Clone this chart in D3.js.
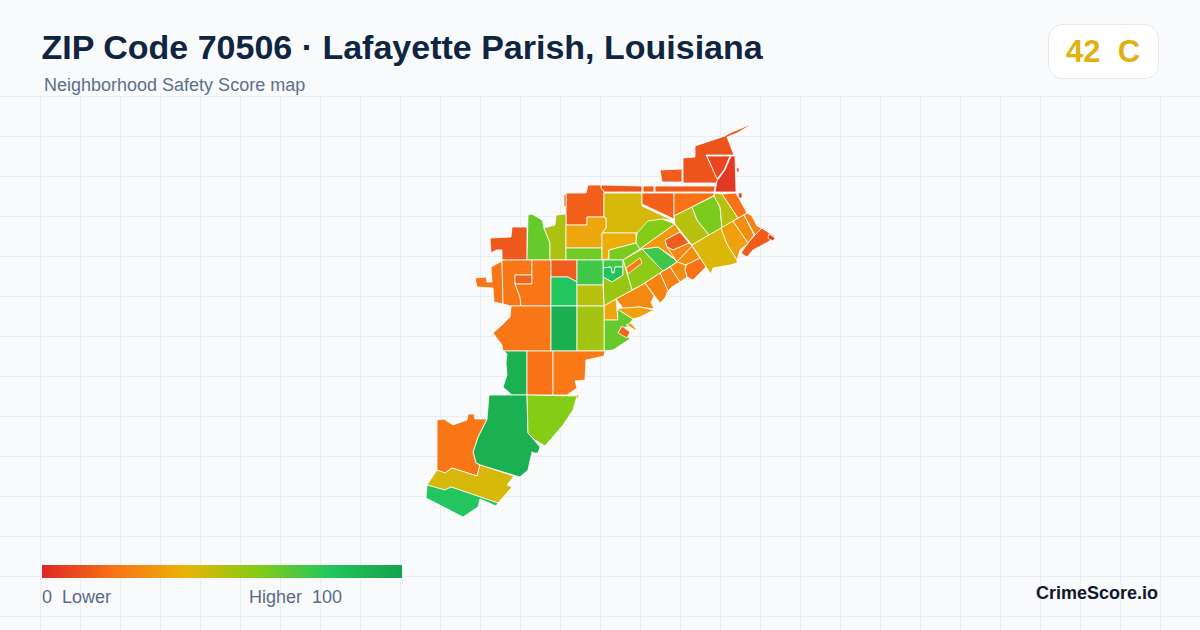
<!DOCTYPE html>
<html>
<head>
<meta charset="utf-8">
<script src="https://d3js.org/d3.v7.min.js"></script>
<style>
  html, body { margin: 0; padding: 0; background: #f8fafc; }
  svg { display: block; }
  text { font-family: "Liberation Sans", Arial, sans-serif; }
</style>
</head>
<body>
<svg id="chart" width="1200" height="630"></svg>
<script>
const titleText = "ZIP Code 70506 \u00b7 Lafayette Parish, Louisiana";
const subtitleText = "Neighborhood Safety Score map";
const overallScore = 42;
const overallGrade = "C";

const legendStops = [0, 20, 40, 60, 80, 100];
const legendColors = ["#dc2626", "#f97316", "#eab308", "#84cc16", "#22c55e", "#16a34a"];

// one score per block group
const tractScores = [
  12, 8, 5, 5, 5, 14, 13, 14, 14, 15, 15, 44, 15, 20, 50, 62, 50, 20,
  43, 34, 28, 25, 14, 5, 13, 66, 52, 36, 64, 38, 62, 60, 58, 22, 74, 74, 82, 56,
  32, 14, 26, 28, 20, 28, 25, 25, 27, 34, 36, 66, 16, 35,
  21, 21, 16, 21, 14, 80, 74, 50, 21, 93, 54,
  92, 20, 22, 34, 92, 60, 21, 44, 80
];

// outlines in map units, same order as tractScores
const tractOutlines = [
  [[749,125],[742,128],[737,130],[728,134],[725,136],[695,146],[695,157],[683,158],[683,183],[716,183],[718,180],[706,155],[734,155],[727,137],[737,133],[749,126]],
  [[707,156],[730,156],[724,170],[717,179]],
  [[731,156],[735,156],[736,192],[715,192],[717,181],[725,170]],
  [[736,168],[739,168],[739,172],[737,172]],
  [[738,193],[742,193],[742,198],[739,198]],
  [[660,170],[682,169],[682,182],[662,182]],
  [[601,185],[642,186],[642,192],[604,192],[601,188]],
  [[643,186],[654,186],[654,192],[643,192]],
  [[655,186],[715,186],[714,192],[655,192]],
  [[566,193],[586,193],[588,185],[601,185],[601,188],[604,192],[604,217],[587,217],[587,225],[566,225]],
  [[564,194],[566,194],[566,207],[564,207]],
  [[604,193],[642,193],[642,206],[674,221],[663,219],[650,222],[637,233],[602,233],[606,228],[606,218],[604,217]],
  [[642,193],[674,193],[674,219],[642,204]],
  [[674,193],[715,193],[713,196],[692,207],[674,216]],
  [[674,216],[692,207],[697,220],[709,235],[692,245],[675,224]],
  [[692,207],[714,196],[720,207],[722,228],[709,235],[697,220]],
  [[714,196],[715,193],[722,194],[738,218],[722,228],[720,207]],
  [[722,194],[736,193],[747,213],[738,218]],
  [[692,245],[709,235],[721,228],[727,244],[737,260],[737,263],[730,265],[713,268],[711,274],[706,267]],
  [[721,228],[733,221],[748,243],[740,250],[737,260],[727,244]],
  [[733,221],[744,215],[754,235],[748,243]],
  [[744,215],[747,213],[752,216],[757,226],[762,228],[755,235]],
  [[755,235],[762,228],[775,237],[768,242],[753,250],[747,257],[741,253],[748,243]],
  [[769,234],[775,238],[773,241],[768,238]],
  [[490,238],[511,237],[512,227],[527,227],[527,260],[502,260],[502,250],[496,250],[491,253]],
  [[528,215],[532,214],[542,220],[544,228],[550,243],[550,260],[527,260]],
  [[544,228],[555,225],[556,215],[566,214],[566,260],[550,260],[550,243]],
  [[566,225],[587,225],[587,217],[604,217],[606,218],[606,228],[602,233],[602,248],[566,248]],
  [[566,248],[602,248],[602,260],[566,260]],
  [[602,233],[636,233],[636,243],[609,250],[609,259],[602,260]],
  [[609,250],[636,243],[640,249],[623,260],[602,260],[609,259]],
  [[637,233],[648,221],[662,219],[675,224],[640,249],[636,243]],
  [[623,260],[642,249],[663,271],[640,286],[632,290]],
  [[626,268],[640,258],[642,263],[628,274]],
  [[642,249],[658,247],[674,259],[677,262],[663,271]],
  [[603,260],[623,260],[623,267],[615,267],[614,273],[612,273],[611,267],[603,268]],
  [[603,268],[611,267],[612,273],[614,273],[615,267],[623,267],[623,275],[612,282],[603,277]],
  [[603,277],[612,282],[623,275],[623,260],[632,290],[604,306]],
  [[640,249],[675,224],[680,232],[665,240],[667,247],[677,260],[658,247],[642,249]],
  [[665,240],[680,232],[689,243],[673,250],[667,247]],
  [[667,247],[673,250],[689,243],[692,246],[688,250],[677,262]],
  [[677,262],[692,246],[700,258],[686,265]],
  [[686,265],[700,258],[706,267],[693,280],[687,277],[685,270]],
  [[677,262],[686,265],[685,270],[687,277],[680,282],[670,267]],
  [[660,273],[670,267],[680,282],[672,287],[668,291]],
  [[660,273],[668,291],[665,298],[660,303],[645,283]],
  [[616,299],[640,286],[645,283],[654,296],[651,302],[654,309],[640,307],[623,308]],
  [[617,309],[623,308],[640,307],[654,310],[640,317],[633,319]],
  [[604,306],[616,299],[617,309],[618,320],[604,320]],
  [[604,320],[618,320],[617,309],[633,319],[627,327],[620,328],[630,339],[613,350],[604,351]],
  [[622,326],[630,332],[627,338],[618,333]],
  [[626,325],[631,323],[637,330],[635,330],[630,327]],
  [[491,267],[502,261],[503,304],[494,302],[493,288],[477,287],[475,278],[486,277],[487,282],[492,282]],
  [[502,260],[532,260],[532,275],[515,275],[515,284],[520,297],[521,306],[511,306],[503,304]],
  [[515,275],[532,275],[532,284],[515,284]],
  [[532,260],[551,260],[551,306],[521,306],[520,297],[515,284],[532,284]],
  [[551,260],[577,260],[577,282],[568,277],[551,277]],
  [[551,277],[568,277],[577,282],[577,306],[551,306]],
  [[577,260],[603,260],[603,285],[577,285]],
  [[577,285],[603,285],[604,306],[577,306]],
  [[511,306],[551,306],[551,351],[503,351],[502,345],[493,333],[502,325],[510,317]],
  [[551,306],[577,306],[577,351],[551,351]],
  [[577,306],[604,306],[604,351],[577,351]],
  [[504,351],[527,351],[527,395],[512,395],[503,387],[507,375],[506,363],[507,354]],
  [[527,351],[553,351],[553,395],[527,395]],
  [[553,351],[605,351],[604,356],[586,360],[585,380],[575,381],[577,388],[567,395],[553,395]],
  [[573,395],[579,395],[578,399]],
  [[489,395],[527,395],[528,433],[540,447],[538,453],[534,453],[532,452],[528,470],[520,477],[480,465],[476,463],[473,452],[478,437],[487,419]],
  [[527,395],[577,396],[573,410],[563,425],[545,446],[535,440],[528,433]],
  [[437,420],[444,419],[453,425],[467,420],[468,414],[474,414],[475,419],[487,419],[478,437],[473,452],[476,463],[480,465],[477,476],[452,468],[445,473],[437,470]],
  [[437,470],[445,473],[452,468],[477,476],[480,465],[514,476],[507,485],[512,487],[498,503],[451,487],[445,490],[427,485]],
  [[427,485],[445,490],[451,487],[498,503],[496,506],[480,499],[478,507],[463,517],[426,498]]
];

const width = 1200;
const height = 630;
const svg = d3.select("#chart");

const color = d3.scaleLinear().domain(legendStops).range(legendColors);

// background grid
const grid = svg.append("g").attr("stroke", "#e8eff4").attr("stroke-width", 1);
grid.selectAll("line.v").data(d3.range(40, width, 40)).join("line")
  .attr("class", "v")
  .attr("x1", d => d + 0.5).attr("x2", d => d + 0.5)
  .attr("y1", 97).attr("y2", height);
grid.selectAll("line.h").data(d3.range(97, height, 40)).join("line")
  .attr("class", "h")
  .attr("x1", 0).attr("x2", width)
  .attr("y1", d => d - 0.5).attr("y2", d => d - 0.5);

// map
const path = d3.geoPath(d3.geoIdentity());
const features = tractOutlines.map((ring, i) => ({
  type: "Feature",
  properties: { score: tractScores[i] },
  geometry: { type: "Polygon", coordinates: [ring.concat([ring[0]])] }
}));
svg.append("g").selectAll("path").data(features).join("path")
  .attr("d", path)
  .attr("fill", d => color(d.properties.score))
  .attr("stroke", "#ffffff")
  .attr("stroke-width", 0.8)
  .attr("stroke-linejoin", "round");

// header
svg.append("text").attr("x", 41.5).attr("y", 59)
  .attr("font-size", 34).attr("font-weight", 700).attr("fill", "#0f2540")
  .text(titleText);
svg.append("text").attr("x", 44).attr("y", 91)
  .attr("font-size", 18).attr("fill", "#5b7089")
  .text(subtitleText);

// score badge
svg.append("rect").attr("x", 1048.5).attr("y", 24.5).attr("width", 110).attr("height", 54).attr("rx", 14)
  .attr("fill", "#ffffff").attr("stroke", "#e2e8f0");
svg.append("text").attr("x", 1103).attr("y", 62).attr("text-anchor", "middle")
  .attr("font-size", 31).attr("font-weight", 700).attr("fill", "#e0b210")
  .style("white-space", "pre")
  .text(overallScore + "  " + overallGrade);

// legend
const legendX = d3.scaleLinear().domain([0, 100]).range([42, 402]);
const gradient = svg.append("defs").append("linearGradient").attr("id", "legend-gradient");
gradient.selectAll("stop").data(legendStops).join("stop")
  .attr("offset", d => d + "%")
  .attr("stop-color", d => color(d));
svg.append("rect").attr("x", legendX(0)).attr("y", 565)
  .attr("width", legendX(100) - legendX(0)).attr("height", 13)
  .attr("fill", "url(#legend-gradient)");
svg.append("text").attr("x", 42).attr("y", 603)
  .attr("font-size", 18).attr("fill", "#5b6b85").style("white-space", "pre")
  .text("0  Lower");
svg.append("text").attr("x", 342).attr("y", 603).attr("text-anchor", "end")
  .attr("font-size", 18).attr("fill", "#5b6b85").style("white-space", "pre")
  .text("Higher  100");

svg.append("text").attr("x", 1158).attr("y", 599).attr("text-anchor", "end")
  .attr("font-size", 18).attr("font-weight", 700).attr("fill", "#0f172a")
  .text("CrimeScore.io");
</script>
</body>
</html>
